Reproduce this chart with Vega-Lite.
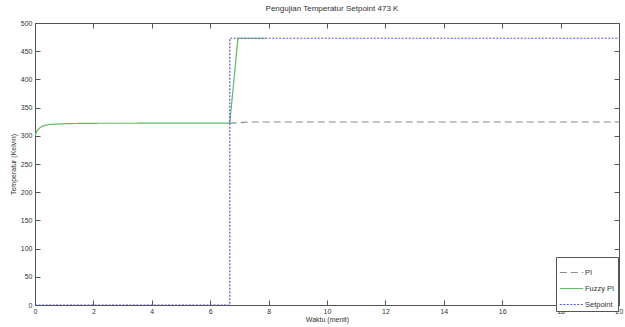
{
  "$schema": "https://vega.github.io/schema/vega-lite/v6.json",
  "width": 584,
  "height": 282,
  "autosize": {"type": "none"},
  "padding": {"left": 35, "top": 23, "right": 6, "bottom": 22},
  "background": "white",
  "title": {"text": "Pengujian Temperatur Setpoint 473 K", "font": "Liberation Sans", "fontSize": 8, "fontWeight": "normal", "color": "#333", "offset": 6, "anchor": "middle", "dx": 5},
  "config": {
    "view": {"stroke": "#555", "strokeWidth": 1},
    "axis": {"labelFont": "Liberation Sans", "titleFont": "Liberation Sans", "labelFontSize": 7, "titleFontSize": 7, "titleFontWeight": "normal", "labelColor": "#333", "titleColor": "#333", "domainColor": "#555", "tickColor": "#555", "grid": false, "tickSize": -5}
  },
  "data": {"values": [
    {"s": "PI", "i": 0, "t": 6.67, "v": 322.5},
    {"s": "PI", "i": 1, "t": 7.0, "v": 323},
    {"s": "PI", "i": 2, "t": 7.3, "v": 324.5},
    {"s": "PI", "i": 3, "t": 20, "v": 324.5},
    {"s": "Fuzzy PI", "i": 0, "t": 0, "v": 300},
    {"s": "Fuzzy PI", "i": 1, "t": 0.05, "v": 307},
    {"s": "Fuzzy PI", "i": 2, "t": 0.1, "v": 311},
    {"s": "Fuzzy PI", "i": 3, "t": 0.2, "v": 315.5},
    {"s": "Fuzzy PI", "i": 4, "t": 0.3, "v": 318},
    {"s": "Fuzzy PI", "i": 5, "t": 0.5, "v": 320},
    {"s": "Fuzzy PI", "i": 6, "t": 0.8, "v": 321},
    {"s": "Fuzzy PI", "i": 7, "t": 1.2, "v": 321.7},
    {"s": "Fuzzy PI", "i": 8, "t": 2, "v": 322.2},
    {"s": "Fuzzy PI", "i": 9, "t": 6.67, "v": 322.5},
    {"s": "Fuzzy PI", "i": 10, "t": 6.95, "v": 473},
    {"s": "Fuzzy PI", "i": 11, "t": 7.9, "v": 473},
    {"s": "Setpoint", "i": 0, "t": 0, "v": 0},
    {"s": "Setpoint", "i": 1, "t": 6.67, "v": 0},
    {"s": "Setpoint", "i": 2, "t": 6.67, "v": 473},
    {"s": "Setpoint", "i": 3, "t": 20, "v": 473}
  ]},
  "layer": [
    {
      "mark": {"type": "line", "strokeWidth": 1.2, "clip": true},
      "encoding": {
        "x": {"field": "t", "type": "quantitative", "scale": {"domain": [0, 20], "nice": false}, "axis": {"values": [0,2,4,6,8,10,12,14,16,18,20], "title": "Waktu (menit)", "titlePadding": 1, "labelPadding": 7, "labelFlush": false, "labelOverlap": false}},
        "y": {"field": "v", "type": "quantitative", "scale": {"domain": [0, 500], "nice": false}, "axis": {"values": [0,50,100,150,200,250,300,350,400,450,500], "title": "Temperatur (Kelvin)", "titlePadding": 4, "labelPadding": 8, "labelFlush": false, "labelOverlap": false}},
        "order": {"field": "i", "type": "quantitative"},
        "color": {"field": "s", "type": "nominal", "scale": {"domain": ["PI", "Fuzzy PI", "Setpoint"], "range": ["#8c8c8c", "#5cbf5c", "#5555ee"]},
          "legend": {"title": null, "orient": "none", "legendX": 521, "legendY": 234, "symbolType": "stroke", "symbolSize": 550, "symbolStrokeWidth": 1.2, "labelFont": "Liberation Sans", "labelFontSize": 7.5, "labelColor": "#333", "strokeColor": "#555", "fillColor": "white", "padding": 3, "rowPadding": 0, "labelOffset": 1}},
        "strokeDash": {"field": "s", "type": "nominal", "scale": {"domain": ["PI", "Fuzzy PI", "Setpoint"], "range": [[7, 4], [1, 0], [2, 1.5]]}, "legend": null}
      }
    },
    {
      "mark": {"type": "point", "opacity": 0},
      "encoding": {
        "x": {"field": "t", "type": "quantitative", "axis": {"orient": "top", "values": [0,2,4,6,8,10,12,14,16,18,20], "labels": false, "title": null}},
        "y": {"field": "v", "type": "quantitative", "axis": {"orient": "right", "values": [0,50,100,150,200,250,300,350,400,450,500], "labels": false, "title": null}}
      }
    }
  ],
  "resolve": {"axis": {"x": "independent", "y": "independent"}}
}
